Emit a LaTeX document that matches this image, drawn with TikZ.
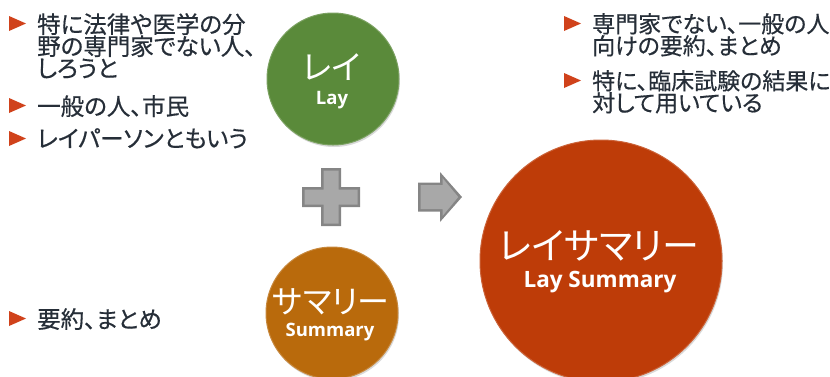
\documentclass[tikz,border=0pt]{standalone}
\usepackage{fontspec}
\setmainfont{Open Sans}
\newfontfamily\jpfont[RawFeature=+palt]{Noto Sans CJK JP}
\newfontfamily\jpbody[RawFeature=+palt,FakeBold=0.5]{Noto Sans CJK JP}
\usetikzlibrary{positioning,shadows}

\definecolor{layGreen}{HTML}{5A8A3A}
\definecolor{sumOrange}{HTML}{B96A0C}
\definecolor{laySumRed}{HTML}{BE3C08}
\definecolor{bulletRed}{HTML}{D0421B}
\definecolor{bodyText}{HTML}{262E38}
\definecolor{iconGray}{HTML}{A8A8A8}
\definecolor{iconEdge}{HTML}{858585}

\tikzstyle{bodytext} = [anchor=north west, inner sep=0pt, align=left, text=bodyText]
\tikzstyle{ball} = [circle, inner sep=0pt, drop shadow={shadow xshift=1pt, shadow yshift=-2pt, opacity=0.3}]
\tikzstyle{balljp} = [inner sep=0pt, text=white]
\tikzstyle{ballen} = [inner sep=0pt, text=white, font=\bfseries]

\begin{document}
\begin{tikzpicture}[x=1pt,y=-1pt]
    \useasboundingbox (0,0) rectangle (830,376);

    % bullet lists
    \foreach \name/\x/\y/\fs/\lines in {
      law/37/13/23.5/{特に法律や医学の分\\野の専門家でない人、\\しろうと},
      public/37/95/23.5/一般の人、市民,
      person/37/128/23.5/レイパーソンともいう,
      digest/37/308/23.5/要約、まとめ,
      plain/592/13/23/{専門家でない、一般の人\\向けの要約、まとめ},
      trial/592/70/23/{特に、臨床試験の結果に\\対して用いている}}
    {
      \node[bodytext, font=\jpbody\fontsize{\fs}{22}\selectfont] (\name) at (\x,\y) {\lines};
      \fill[bulletRed] (\x-28,\y+3) -- (\x-11,\y+10.5) -- (\x-28,\y+18) -- cycle;
    }

    % circles
    \foreach \name/\x/\y/\size/\col in {
      lay/333/79/132/layGreen,
      summary/332/313/132/sumOrange,
      laysummary/601/261/242/laySumRed}
    {
      \node[ball, fill=\col, draw=\col!80!white, line width=1pt, minimum size=\size pt] (\name) at (\x,\y) {};
    }
    \node[balljp, font=\jpfont\fontsize{33}{33}\selectfont] (layjp) at (332,67) {レイ};
    \node[ballen, font=\bfseries\fontsize{18.5}{18.5}\selectfont] (layen) at (332,100) {Lay};
    \node[balljp, font=\jpfont\fontsize{32}{32}\selectfont] (summaryjp) at (331,302) {サマリー};
    \node[ballen, font=\bfseries\fontsize{18.5}{18.5}\selectfont] (summaryen) at (330,332) {Summary};
    \node[balljp, font=\jpfont\fontsize{37}{37}\selectfont] (laysummaryjp) at (599,246) {レイサマリー};
    \node[ballen, font=\bfseries\fontsize{22.5}{22.5}\selectfont] (laysummaryen) at (600,282) {Lay Summary};

    % plus and arrow
    \foreach \h/\L/\d/\col in {10/29/0/iconEdge, 7.5/26.5/2.5/iconGray}
    {
      \fill[fill=\col] (331-\h,197-\L) -- (331+\h,197-\L) -- (331+\h,197-\h) -- (331+\L,197-\h)
        -- (331+\L,197+\h) -- (331+\h,197+\h) -- (331+\h,197+\L) -- (331-\h,197+\L)
        -- (331-\h,197+\h) -- (331-\L,197+\h) -- (331-\L,197-\h) -- (331-\h,197-\h) -- cycle;
      \fill[fill=\col] (418+\d,182.5+\d) -- (440+\d,182.5+\d) -- (440+\d,172+2.4*\d) -- (462-1.5*\d,197)
        -- (440+\d,222-2.4*\d) -- (440+\d,211.5-\d) -- (418+\d,211.5-\d) -- cycle;
    }
\end{tikzpicture}
\end{document}
